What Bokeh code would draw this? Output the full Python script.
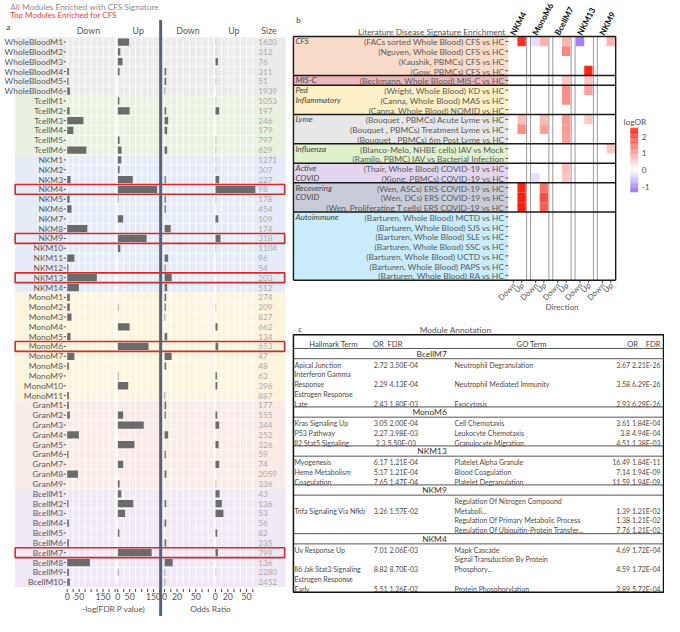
import numpy as np
from bokeh.plotting import figure
from bokeh.models import Range1d, ColumnDataSource, LinearColorMapper
from bokeh.transform import transform
from bokeh.core.properties import value
from bokeh.embed import file_html
from bokeh.resources import INLINE

# ---------------- data: panel a ----------------
cell_types = ["WholeBlood", "Tcell", "NK", "Mono", "Gran", "Bcell"]
modules_per_type = [6, 6, 14, 11, 9, 10]
modules = [f"{c}M{i + 1}" for c, n in zip(cell_types, modules_per_type) for i in range(n)]
module_size = [1620, 312, 76, 311, 51, 1939,
               1053, 197, 246, 179, 797, 629,
               1271, 307, 227, 98, 178, 454, 109, 174, 318, 1104, 96, 54, 203, 512,
               274, 209, 827, 662, 134, 653, 47, 48, 63, 396, 887,
               177, 155, 344, 252, 326, 59, 74, 2059, 336,
               43, 136, 53, 56, 82, 235, 799, 136, 2280, 2452]
down_fdr = [0, 0, 0, 7, 5, 11,
            0, 10, 68, 26, 0, 80,
            0, 0, 14, 0, 10, 18, 0, 84, 0, 0, 30, 5, 124, 49,
            11, 11, 18, 0, 14, 0, 30, 7, 0, 0, 7,
            7, 11, 0, 49, 0, 5, 0, 45, 0,
            0, 5, 0, 7, 0, 7, 0, 95, 7, 11]
up_fdr = [48, 11, 20, 8, 0, 0,
          7, 50, 0, 0, 8, 16,
          15, 8, 63, 165, 3, 0, 23, 0, 121, 11, 0, 0, 0, 0,
          0, 3, 0, 50, 0, 129, 0, 0, 3, 44, 0,
          0, 23, 109, 0, 70, 0, 23, 0, 8,
          15, 65, 31, 0, 7, 0, 142, 0, 3, 0]
down_or = [0, 0, 0, 2.6, 2.6, 1,
           0, 2.6, 5.7, 4.2, 0, 4.2,
           0, 0, 2, 0, 2, 2, 0, 9.9, 0, 0, 5.7, 1.5, 11.4, 4.2,
           2.6, 2, 1, 0, 4.2, 0, 11.4, 2.6, 0, 0, 1,
           2.6, 2, 0, 5.7, 0, 2, 0, 3, 0,
           0, 2.6, 0, 2.6, 0, 2.6, 0, 13, 1, 1]
up_or = [1.5, 1.5, 4.2, 1.5, 1.5, 0,
         1.5, 6.2, 0, 0, 1.5, 1.5,
         1.5, 1.5, 6.2, 64, 1.5, 0, 4.7, 0, 8.3, 1.5, 0, 0, 0, 0,
         0, 1.5, 0, 3.6, 0, 4.7, 0, 0, 2.6, 3.1, 0,
         0, 3.1, 6.2, 0, 5.2, 0, 6.2, 0, 1.5,
         6.8, 10.4, 13, 0, 3.1, 0, 4.2, 0, 1.5, 0]
up_or_significant = [0, 0, 1, 0, 0, 0,
                     0, 1, 0, 0, 0, 0,
                     0, 0, 1, 1, 0, 0, 1, 0, 1, 0, 0, 0, 0, 0,
                     0, 0, 0, 1, 0, 1, 0, 0, 1, 1, 0,
                     0, 1, 1, 0, 1, 0, 1, 0, 0,
                     1, 1, 1, 0, 1, 0, 1, 0, 0, 0]
top_modules = ["NKM4", "NKM9", "NKM13", "MonoM6", "BcellM7"]
fdr_ticks = [0, 50, 150]
or_ticks = [0, 20, 50]

# ---------------- data: panel b ----------------
lit_groups = ["CFS", "MIS-C", "Ped\nInflammatory", "Lyme", "Influenza",
              "Active\nCOVID", "Recovering\nCOVID", "Autoimmune"]
lit_group_sizes = [4, 1, 3, 3, 2, 2, 3, 7]
lit_signatures = [
    "(FACs sorted Whole Blood) CFS vs HC",
    "(Nguyen, Whole Blood) CFS vs HC",
    "(Kaushik, PBMCs) CFS vs HC",
    "(Gow, PBMCs) CFS vs HC",
    "(Beckmann, Whole Blood) MIS-C vs HC",
    "(Wright, Whole Blood) KD vs HC",
    "(Canna, Whole Blood) MAS vs HC",
    "(Canna, Whole Blood) NOMID vs HC",
    "(Bouquet , PBMCs) Acute Lyme vs HC",
    "(Bouquet , PBMCs) Treatment Lyme vs HC",
    "(Bouquet , PBMCs) 6m Post Lyme vs HC",
    "(Blanco-Melo, NHBE cells) IAV vs Mock",
    "(Ramilo, PBMC) IAV vs Bacterial Infection",
    "(Thair, Whole Blood) COVID-19 vs HC",
    "(Xiong, PBMCs) COVID-19 vs HC",
    "(Wen, ASCs) ERS COVID-19 vs HC",
    "(Wen, DCs) ERS COVID-19 vs HC",
    "(Wen, Proliferating T cells) ERS COVID-19 vs HC",
    "(Barturen, Whole Blood) MCTD vs HC",
    "(Barturen, Whole Blood) SJS vs HC",
    "(Barturen, Whole Blood) SLE vs HC",
    "(Barturen, Whole Blood) SSC vs HC",
    "(Barturen, Whole Blood) UCTD vs HC",
    "(Barturen, Whole Blood) PAPS vs HC",
    "(Barturen, Whole Blood) RA vs HC",
]
heat_modules = ["NKM4", "MonoM6", "BcellM7", "NKM13", "NKM9"]
directions = ["Down", "Up"]
heat_sig = [0, 0, 0, 0, 0, 0, 1, 3, 4, 4, 5, 5, 6, 8, 8, 8, 8, 9, 9, 9, 10, 11, 13, 14, 14,
            15, 15, 16, 16, 17, 17]
heat_mod = ["NKM4", "MonoM6", "MonoM6", "BcellM7", "NKM13", "NKM9", "BcellM7", "NKM13",
            "BcellM7", "NKM13", "BcellM7", "NKM13", "BcellM7",
            "NKM4", "MonoM6", "BcellM7", "NKM13", "NKM4", "MonoM6", "BcellM7", "BcellM7",
            "NKM9", "BcellM7", "MonoM6", "BcellM7",
            "NKM4", "MonoM6", "NKM4", "MonoM6", "NKM4", "MonoM6"]
heat_dir = ["Up", "Down", "Up", "Up", "Down", "Up", "Up", "Up",
            "Up", "Up", "Up", "Up", "Up",
            "Up", "Up", "Up", "Up", "Up", "Up", "Up", "Up",
            "Up", "Up", "Down", "Up",
            "Up", "Up", "Up", "Up", "Up", "Up"]
heat_logor = [2.2, -0.25, 0.8, 0.8, -1.0, 0.8, 1.3, 2.3,
              0.6, 0.6, 1.2, 1.0, 1.2,
              0.7, 0.7, 1.1, 0.6, 1.2, 1.0, 1.1, 1.0,
              0.6, 0.7, -0.25, 0.6,
              2.3, 1.5, 2.4, 1.9, 2.4, 1.7]
colorbar_ticks = [-1, 0, 1, 2]

# ---------------- data: panel c ----------------
annot_modules = ["BcellM7", "MonoM6", "NKM13", "NKM9", "NKM4"]
hm_module = ["BcellM7"] * 3 + ["MonoM6"] * 3 + ["NKM13"] * 3 + ["NKM9"] + ["NKM4"] * 3
hm_term = ["Apical Junction", "Interferon Gamma\nResponse", "Estrogen Response\nLate",
           "Kras Signaling Up", "P53 Pathway", "Il2 Stat5 Signaling",
           "Myogenesis", "Heme Metabolism", "Coagulation",
           "Tnfa Signaling Via Nfkb",
           "Uv Response Up", "Il6 Jak Stat3 Signaling", "Estrogen Response\nEarly"]
hm_or = [2.72, 2.29, 2.43, 3.05, 2.27, 2.3, 6.17, 5.17, 7.65, 3.26, 7.01, 8.82, 5.51]
hm_fdr = ["3.50E-04", "4.13E-04", "1.80E-03", "2.00E-04", "3.98E-03", "5.50E-03",
          "1.21E-04", "1.21E-04", "1.47E-04", "1.57E-02", "2.06E-03", "8.70E-03", "1.26E-02"]
go_module = ["BcellM7"] * 3 + ["MonoM6"] * 3 + ["NKM13"] * 3 + ["NKM9"] * 3 + ["NKM4"] * 3
go_term = ["Neutrophil Degranulation", "Neutrophil Mediated Immunity", "Exocytosis",
           "Cell Chemotaxis", "Leukocyte Chemotaxis", "Granulocyte Migration",
           "Platelet Alpha Granule", "Blood Coagulation", "Platelet Degranulation",
           "Regulation Of Nitrogen Compound\nMetaboli...", "Regulation Of Primary Metabolic Process",
           "Regulation Of Ubiquitin-Protein Transfer...",
           "Mapk Cascade", "Signal Transduction By Protein\nPhosphory...", "Protein Phosphorylation"]
go_or = [3.67, 3.58, 2.93, 3.61, 3.8, 4.51, 16.49, 7.14, 11.59, 1.39, 1.38, 7.76, 4.69, 4.59, 2.89]
go_fdr = ["2.21E-26", "6.29E-26", "6.29E-26", "1.84E-04", "4.94E-04", "1.38E-03",
          "1.84E-11", "1.94E-09", "1.94E-09", "1.21E-02", "1.21E-02", "1.21E-02",
          "1.72E-04", "1.72E-04", "5.72E-04"]

# ---------------- figure ----------------
W, H = 664, 616
RW, RH = 680, 632
S = W / RW
FONT = "Lato"


def fs(px):
    return f"{px * S:.2f}px"


p = figure(width=W, height=H, x_range=Range1d(0, RW), y_range=Range1d(RH, 0),
           output_backend="svg", toolbar_location=None,
           x_axis_location=None, y_axis_location=None, min_border=0,
           outline_line_color=None, background_fill_color="white", border_fill_color="white")
p.xgrid.visible = False
p.ygrid.visible = False


def T(target, xs, ys, texts, size, color="#555555", align="left", baseline="middle",
      style="normal", angle=0.0):
    texts = list(texts)
    n = len(texts)
    xs = list(xs) if isinstance(xs, (list, tuple, np.ndarray)) else [xs] * n
    ys = list(ys) if isinstance(ys, (list, tuple, np.ndarray)) else [ys] * n
    target.text(x=xs, y=ys, text=texts, angle=angle, text_font=value(FONT),
                text_font_size=fs(size), text_color=color, text_align=align,
                text_baseline=baseline, text_font_style=style)


# ================= panel a =================
nA = len(modules)
A_TOP, A_BOT = 37.6, 601.8


def rowsA_sub(xs0, xs1, xt0, xt1):
    return p.subplot(x_source=Range1d(xs0, xs1), y_source=Range1d(-0.5, nA - 0.5),
                     x_target=Range1d(xt0, xt1), y_target=Range1d(A_TOP, A_BOT))


rowsA = rowsA_sub(0, RW, 0, RW)
group_bg = ["#ebebeb", "#e9f1e0", "#e5ecf7", "#fcf4dc", "#f9ebe6", "#f0e8f5"]
starts = np.cumsum([0] + modules_per_type[:-1])
ends = starts + np.array(modules_per_type)
rowsA.quad(left=15, right=292, top=list(starts - 0.5), bottom=list(ends - 0.5),
           fill_color=group_bg, line_color=None)

# white row separators
sep_rows = [i - 0.5 for i in range(1, nA)]
rowsA.segment(x0=68, x1=262, y0=sep_rows, y1=sep_rows, line_color="white", line_width=0.8,
              line_alpha=0.8)

panel_specs = [
    (down_fdr, None, 200, 68.3, 49.0, 117.5, 25, fdr_ticks),
    (up_fdr, None, 200, 120.0, 49.0, 163.0, 25, fdr_ticks),
    (down_or, None, 80, 168.0, 51.2, 218.0, 10, or_ticks),
    (up_or, up_or_significant, 80, 220.0, 51.2, 262.0, 10, or_ticks),
]
idx = np.arange(nA)
for vals, sig, umax, left, wpx, vis_right, step, ticks in panel_specs:
    sub = rowsA_sub(0, umax, left, left + wpx)
    umax_vis = (vis_right - left) / wpx * umax
    grid = [g for g in range(0, umax + 1, step) if g <= umax_vis + 1e-9]
    sub.segment(x0=grid, x1=grid, y0=-0.5, y1=nA - 0.5, line_color="white",
                line_width=1.0, line_alpha=0.9)
    vals = np.array(vals, dtype=float)
    if sig is None:
        m = vals > 0
        sub.hbar(y=list(idx[m]), left=0, right=list(vals[m]), height=0.74,
                 fill_color="#6b6b6b", line_color=None)
    else:
        sigarr = np.array(sig, dtype=bool)
        m1 = (vals > 0) & sigarr
        m0 = (vals > 0) & ~sigarr
        sub.hbar(y=list(idx[m1]), left=0, right=list(vals[m1]), height=0.74,
                 fill_color="#6b6b6b", line_color=None)
        sub.hbar(y=list(idx[m0]), left=0, right=list(vals[m0]), height=0.74,
                 fill_color="#bdbdbd", line_color=None)
    sub.segment(x0=grid, x1=grid, y0=nA - 0.5 + 0.2, y1=nA - 0.5 + 0.5,
                line_color="#444444", line_width=1)
    T(sub, ticks, nA - 0.5 + 1.0, [str(t) for t in ticks], 9, color="#555555",
      align="center")

# panel gaps
rowsA.quad(left=[117.5, 218.0], right=[120.0, 220.0], top=-0.5, bottom=nA - 0.5,
           fill_color="white", fill_alpha=0.7, line_color=None)

# module labels, ticks, sizes
T(rowsA, 64, list(idx), modules, 8.6, color="#595959", align="right")
rowsA.segment(x0=64.8, x1=67, y0=list(idx), y1=list(idx), line_color="#555555", line_width=1)
T(rowsA, 264, list(idx), [str(s) for s in module_size], 8.3, color="#a8a8a8")

# highlighted modules
top_idx = [modules.index(m) for m in top_modules]
rowsA.quad(left=15, right=291, top=[i - 0.5 for i in top_idx], bottom=[i + 0.5 for i in top_idx],
           fill_color=None, line_color="#d42a2a", line_width=1.6)

# separating dark line
p.segment(x0=[164], x1=[164], y0=[20], y1=[632], line_color="#56637a", line_width=3)

# headers & titles
T(p, [90, 141, 192, 239, 275], 31, ["Down", "Up", "Down", "Up", "Size"], 9, color="#555555",
  align="center")
T(p, 10, 6.5, ["All Modules Enriched with CFS Signature"], 8.5, color="#8a8a8a")
T(p, 10, 15, ["Top Modules Enriched for CFS"], 8.2, color="#ee4040")
T(p, 6, 27, ["a"], 8, color="#333333")
T(p, [116, 215], 624, ["-log(FDR P value)", "Odds Ratio"], 8.5, color="#555555", align="center")

# ================= panel b =================
nB = len(lit_signatures)
B_TOP, B_BOT = 37.0, 287.0


def rowsB_sub(xs0, xs1, xt0, xt1):
    return p.subplot(x_source=Range1d(xs0, xs1), y_source=Range1d(-0.5, nB - 0.5),
                     x_target=Range1d(xt0, xt1), y_target=Range1d(B_TOP, B_BOT))


rowsB = rowsB_sub(0, RW, 0, RW)
lit_bg = ["#f9dbc9", "#e8b6bd", "#fdf0c6", "#e7e7e7", "#dff0cd", "#e2d6ef", "#c8ccd9", "#c8ecf9"]
gstarts = np.cumsum([0] + lit_group_sizes[:-1])
gends = gstarts + np.array(lit_group_sizes)
rowsB.quad(left=300, right=520, top=list(gstarts - 0.5), bottom=list(gends - 0.5),
           fill_color=lit_bg, line_color=None)

bidx = list(range(nB))
T(rowsB, 516, [i + 0.1 for i in bidx], lit_signatures, 8.6, color="#5a5a5a", align="right")
rowsB.segment(x0=517, x1=520, y0=bidx, y1=bidx, line_color="#555555", line_width=1)

for g, s0 in zip(lit_groups, gstarts):
    lines = g.split("\n")
    T(rowsB, 302, [s0 + k for k in range(len(lines))], lines, 8.3, color="#444444",
      style="italic")

# heatmap
lo, hi = -1.3, 2.5
purple = np.array([0x8c, 0x5c, 0xf4])
white = np.array([255, 255, 255])
red = np.array([255, 0x14, 0x00])
pal = []
for v in np.linspace(lo, hi, 256):
    c = white + (purple - white) * (v / lo) if v < 0 else white + (red - white) * (v / hi)
    pal.append("#%02x%02x%02x" % tuple(int(round(x)) for x in c))
mapper = LinearColorMapper(palette=pal, low=lo, high=hi)

HX0, HX1, GAP = 520.0, 630.0, 4.0
fw = (HX1 - HX0 - GAP * (len(heat_modules) - 1)) / len(heat_modules)
facet_lines = []
for k, mod in enumerate(heat_modules):
    fl = HX0 + k * (fw + GAP)
    fsub = rowsB_sub(-0.6, 1.6, fl, fl + fw)
    sel = [i for i, m in enumerate(heat_mod) if m == mod]
    src = ColumnDataSource(dict(
        x=[directions.index(heat_dir[i]) for i in sel],
        y=[heat_sig[i] for i in sel],
        v=[heat_logor[i] for i in sel]))
    fsub.rect(x="x", y="y", width=1.0, height=1.0, source=src,
              fill_color=transform("v", mapper), line_color=None)
    fsub.segment(x0=[0, 1], x1=[0, 1], y0=nB - 0.5, y1=nB - 0.5 + 0.3,
                 line_color="#555555", line_width=1)
    T(fsub, [0.1, 1.1], nB - 0.5 + 0.4, directions, 8, color="#555555", align="right",
      angle=np.pi / 4)
    T(fsub, -0.1, -0.7, [mod], 8.6, color="#111111", style="bold", angle=np.radians(62))
    if k > 0:
        facet_lines.append(fl)
    if k < len(heat_modules) - 1:
        facet_lines.append(fl + fw)

rowsB.segment(x0=facet_lines, x1=facet_lines, y0=-0.5, y1=nB - 0.5, line_color="#9a9a9a",
              line_width=1)
bounds = [b - 0.5 for b in list(gstarts) + [nB]]
rowsB.segment(x0=300, x1=630, y0=bounds, y1=bounds, line_color="#1a1a1a", line_width=1.4)
rowsB.segment(x0=[300, 630], x1=[300, 630], y0=-0.5, y1=nB - 0.5, line_color="#1a1a1a",
              line_width=1.4)

T(p, 303, 20, ["b"], 8, color="#333333")
T(p, 517, 32, ["Literature Disease Signature Enrichment"], 8.6, color="#555555", align="right")
T(p, 575, 314, ["Direction"], 8.3, color="#555555", align="center")

# colorbar
cb = p.subplot(x_source=Range1d(0, 1), y_source=Range1d(lo, hi),
               x_target=Range1d(645, 653), y_target=Range1d(174 - lo * 17.2, 174 - hi * 17.2))
cys = np.linspace(lo, hi, 90)
cb.rect(x=0.5, y=list(cys), width=1, height=(hi - lo) / 89 * 1.15,
        fill_color=[pal[int(round((v - lo) / (hi - lo) * 255))] for v in cys], line_color=None)
T(cb, 1.45, colorbar_ticks, [str(t) for t in colorbar_ticks], 8.5, color="#555555")
T(p, 638, 125, ["logOR"], 8.5, color="#555555")

# ================= panel c =================
TL, TR, TT = 300.0, 679.0, 343.0
VX_L, VX_R = 405.0, 676.0
HM_X, GO_X = 301.0, 465.0
LINE = 10.0
T(p, 305, 337, ["c"], 8, color="#333333")
T(p, 466, 338, ["Module Annotation"], 8.6, color="#555555", align="center")
T(p, [341, 387, 404, 544], 352, ["Hallmark Term", "OR", "FDR", "GO Term"], 7.8,
  color="#444444", align="center")
T(p, [653, 676], 352, ["OR", "FDR"], 7.8, color="#444444", align="right")

L = 357.0
sep_lines = []
for mod in annot_modules:
    sep_lines.append(L)
    T(p, 457, L + 5.5, [mod], 8.6, color="#333333", align="right")
    sep_lines.append(L + 10.5)
    y = L + 10.5 + 6.0
    hs = [i for i, m in enumerate(hm_module) if m == mod]
    gs = [i for i, m in enumerate(go_module) if m == mod]
    last = y
    for r in range(max(len(hs), len(gs))):
        h_lines = hm_term[hs[r]].split("\n") if r < len(hs) else []
        g_lines = go_term[gs[r]].split("\n") if r < len(gs) else []
        nl = max(len(h_lines), len(g_lines))
        bottom = y + (nl - 1) * LINE
        if h_lines:
            T(p, HM_X, [bottom - (len(h_lines) - 1 - j) * LINE for j in range(len(h_lines))],
              h_lines, 7.2, color="#4a4a4a")
            T(p, VX_L, bottom, [f"{hm_or[hs[r]]:g} {hm_fdr[hs[r]]}"], 7.2, color="#4a4a4a",
              align="center")
        if g_lines:
            T(p, GO_X, [bottom - (len(g_lines) - 1 - j) * LINE for j in range(len(g_lines))],
              g_lines, 7.2, color="#4a4a4a")
            T(p, VX_R, bottom, [f"{go_or[gs[r]]:g} {go_fdr[gs[r]]}"], 7.2, color="#4a4a4a",
              align="right")
        last = bottom
        y = bottom + LINE
    L = last + 3.5
TB = L
p.segment(x0=TL, x1=TR, y0=sep_lines, y1=sep_lines, line_color="#555555", line_width=1)
p.quad(left=[TL], right=[TR], top=[TT], bottom=[TB], fill_color=None, line_color="#111111",
       line_width=1.5)

open("out.html", "w").write(file_html(p, INLINE))
